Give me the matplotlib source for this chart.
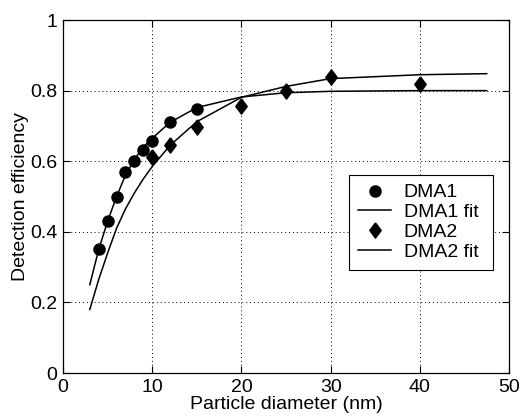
import matplotlib
matplotlib.use("Agg")
import matplotlib.pyplot as plt

# -----------------------------
# Data
# -----------------------------

DMA1_DIAMETER = [4, 5, 6, 7, 8, 9, 10, 12, 15]
DMA1_EFFICIENCY = [0.350, 0.430, 0.500, 0.569, 0.600, 0.633, 0.656, 0.712, 0.749]

DMA2_DIAMETER = [10, 12, 15, 20, 25, 30, 40]
DMA2_EFFICIENCY = [0.612, 0.646, 0.697, 0.756, 0.800, 0.839, 0.820]

FIT_DIAMETER = [3, 4, 5, 6, 7, 8, 9, 10, 12, 15, 20, 25, 30, 40, 47.5]
DMA1_FIT = [0.25, 0.35, 0.43, 0.50, 0.56, 0.605, 0.64, 0.665, 0.71, 0.752,
            0.782, 0.794, 0.798, 0.800, 0.800]
DMA2_FIT = [0.18, 0.265, 0.34, 0.41, 0.465, 0.51, 0.55, 0.585, 0.645, 0.712,
            0.781, 0.812, 0.834, 0.845, 0.848]

X_TICKS = [0, 10, 20, 30, 40, 50]
Y_TICKS = [0, 0.2, 0.4, 0.6, 0.8, 1]
Y_TICK_LABELS = ["0", "0.2", "0.4", "0.6", "0.8", "1"]

# matlab style diamond (a bit wider than matplotlib's thin diamond)
DIAMOND = [(0, 1), (0.75, 0), (0, -1), (-0.75, 0), (0, 1)]


def main():
    plt.rcParams["font.family"] = ["Liberation Sans", "DejaVu Sans"]
    plt.rcParams["font.size"] = 14

    fig = plt.figure(figsize=(5.21, 4.17), dpi=100)
    ax = fig.add_axes([0.121, 0.1055, 0.856, 0.8465])

    ax.plot(DMA1_DIAMETER, DMA1_EFFICIENCY, "o", color="black",
            markersize=8, label="DMA1", zorder=3)
    ax.plot(FIT_DIAMETER, DMA1_FIT, "-", color="black", lw=1.1,
            label="DMA1 fit", zorder=2)
    ax.plot(DMA2_DIAMETER, DMA2_EFFICIENCY, linestyle="none", marker=DIAMOND,
            color="black", markersize=11, label="DMA2", zorder=3)
    ax.plot(FIT_DIAMETER, DMA2_FIT, "-", color="black", lw=1.1,
            label="DMA2 fit", zorder=2)

    ax.set_xlim(0, 50)
    ax.set_ylim(0, 1)
    ax.set_xticks(X_TICKS)
    ax.set_yticks(Y_TICKS)
    ax.set_yticklabels(Y_TICK_LABELS)
    ax.grid(True, linestyle=(0, (1, 3)), color="black", lw=0.7)
    ax.tick_params(direction="in", top=True, right=True, length=5,
                   width=0.8, pad=4)
    for spine in ax.spines.values():
        spine.set_linewidth(0.9)

    ax.set_xlabel("Particle diameter (nm)", labelpad=0)
    ax.set_ylabel("Detection efficiency", labelpad=1)

    leg = ax.legend(loc="upper left",
                    bbox_to_anchor=(349.3 / 521, 1 - 271 / 417, 144 / 521, 96 / 417),
                    bbox_transform=fig.transFigure, mode="expand",
                    fancybox=False, framealpha=1, edgecolor="black",
                    handlelength=1.7, borderpad=0.45, labelspacing=0.12,
                    handletextpad=0.65, borderaxespad=0)
    leg.get_frame().set_linewidth(0.8)

    fig.savefig("out.png", dpi=100)
    plt.close(fig)


if __name__ == "__main__":
    main()
